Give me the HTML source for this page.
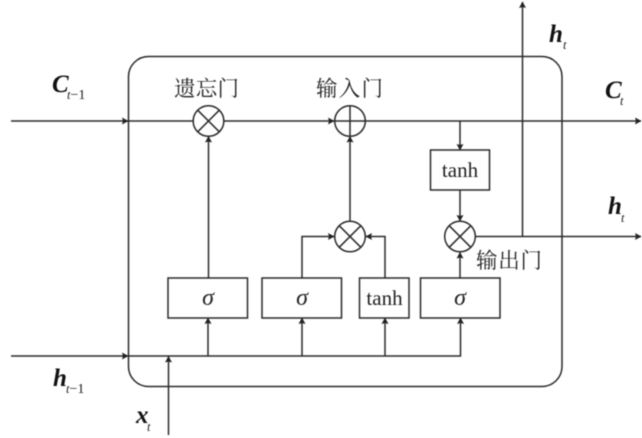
<!DOCTYPE html>
<html><head><meta charset="utf-8"><style>
html,body{margin:0;padding:0;background:#fff}
svg{display:block;filter:blur(.4px)}
.cn{font-family:"Liberation Serif","Noto Serif CJK SC",serif;font-size:21.5px;fill:#222}
.v{font-family:"Liberation Serif",serif;font-weight:bold;font-style:italic;font-size:25px;fill:#111}
.s{font-family:"Liberation Serif",serif;font-style:italic;font-size:12.5px;fill:#222}
.u{font-style:normal;font-weight:normal;font-size:14px}
.t{font-family:"Liberation Serif",serif;font-size:21px;fill:#222;text-anchor:middle}
.g{font-family:"Liberation Serif",serif;font-style:italic;font-size:24px;fill:#222;text-anchor:middle}
</style></head><body>
<svg width="642" height="438" viewBox="0 0 642 438" xmlns="http://www.w3.org/2000/svg">
<defs><marker id="a" markerUnits="userSpaceOnUse" markerWidth="8" markerHeight="8" refX="6" refY="3.5" orient="auto"><path d="M0 0L6.5 3.500L0 7L1 3.500Z" fill="#222"/></marker></defs>
<g fill="none" stroke="#2a2a2a" stroke-width="1.5">
<rect x="128.500" y="56.500" width="433.500" height="330" rx="20" ry="20"/>
<path d="M11 121H128" marker-end="url(#a)"/>
<path d="M128 121H193"/>
<path d="M224 121H334" marker-end="url(#a)"/>
<path d="M365.500 121H641" marker-end="url(#a)"/>
<path d="M460 121V150" marker-end="url(#a)"/>
<path d="M460 190V221" marker-end="url(#a)"/>
<path d="M476 236.500H641" marker-end="url(#a)"/>
<path d="M522.500 236.500V2" marker-end="url(#a)"/>
<path d="M208.500 278V136.500" marker-end="url(#a)"/>
<path d="M350 221V136.500" marker-end="url(#a)"/>
<path d="M302 278V236.500H334" marker-end="url(#a)"/>
<path d="M385 278V236.500H366" marker-end="url(#a)"/>
<path d="M460 278V252.500" marker-end="url(#a)"/>
<path d="M11 356H128" marker-end="url(#a)"/>
<path d="M128 356H460.500V318" marker-end="url(#a)"/>
<path d="M208 356V318" marker-end="url(#a)"/>
<path d="M302 356V318" marker-end="url(#a)"/>
<path d="M385 356V318" marker-end="url(#a)"/>
<path d="M168.500 435V356.500" marker-end="url(#a)"/>
<rect x="168" y="278" width="79.500" height="40"/>
<rect x="262" y="278" width="79.500" height="40"/>
<rect x="359.500" y="278" width="49.500" height="40"/>
<rect x="420.500" y="278" width="79.500" height="40"/>
<rect x="430.500" y="150" width="59" height="40"/>
<circle cx="208.500" cy="121" r="15.300"/>
<path d="M197.700 110.200L219.300 131.800M219.300 110.200L197.700 131.800"/>
<circle cx="350" cy="121" r="15.300"/>
<path d="M334.700 121H365.300M350 105.700V136.300"/>
<circle cx="350" cy="236.500" r="15.300"/>
<path d="M339.200 225.700L360.800 247.300M360.800 225.700L339.200 247.300"/>
<circle cx="460" cy="236.500" r="15.300"/>
<path d="M449.200 225.700L470.800 247.300M470.800 225.700L449.200 247.300"/>
</g>
<text class="cn" x="174" y="96" textLength="65">遗忘门</text>
<text class="cn" x="316" y="96" textLength="67">输入门</text>
<text class="cn" x="476" y="268" textLength="66">输出门</text>
<text class="v" x="52" y="92">C</text><text class="s" x="67" y="99">t<tspan class="u">−1</tspan></text>
<text class="v" x="605" y="98">C</text><text class="s" x="620" y="105">t</text>
<text class="v" x="549" y="42">h</text><text class="s" x="563" y="49">t</text>
<text class="v" x="608" y="214">h</text><text class="s" x="621" y="222">t</text>
<text class="v" x="53" y="386">h</text><text class="s" x="66" y="393">t<tspan class="u">−1</tspan></text>
<text class="v" x="136" y="423">x</text><text class="s" x="147" y="431">t</text>
<text class="t" x="460" y="177">tanh</text>
<text class="t" x="384.500" y="305">tanh</text>
<text class="g" x="208" y="305">σ</text>
<text class="g" x="302" y="305">σ</text>
<text class="g" x="460" y="305">σ</text>
</svg>
</body></html>
